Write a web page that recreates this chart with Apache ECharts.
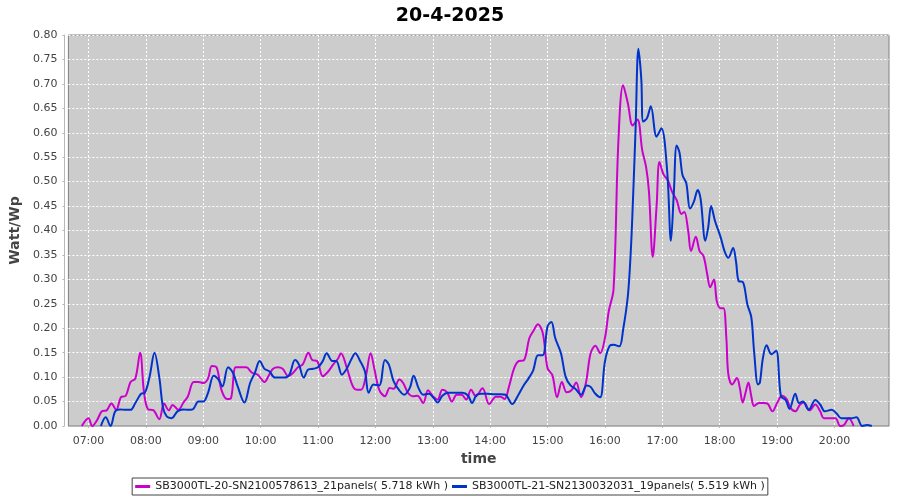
<!DOCTYPE html>
<html>
<head>
<meta charset="utf-8">
<script src="https://cdn.jsdelivr.net/npm/echarts@6/dist/echarts.min.js"></script>
<style>html,body{margin:0;padding:0;background:#fff;}#c{width:900px;height:500px;}</style>
</head>
<body>
<div id="c"></div>
<script>
const titleText = '20-4-2025';
const yName = 'Watt/Wp';
const xName = 'time';
const seriesNames = ['SB3000TL-20-SN2100578613_21panels( 5.718 kWh )', 'SB3000TL-21-SN2130032031_19panels( 5.519 kWh )'];
const hourTicks = ['07:00','08:00','09:00','10:00','11:00','12:00','13:00','14:00','15:00','16:00','17:00','18:00','19:00','20:00'];

const magentaTimes = ['06:53','07:00','07:04','07:09','07:14','07:19','07:24','07:29','07:34','07:39','07:44','07:49','07:54','07:58','08:02','08:08','08:14','08:19','08:24','08:28','08:34','08:39','08:44','08:50','08:55','09:00','09:05','09:09','09:14','09:19','09:25','09:29','09:34','09:40','09:45','09:51','09:57','10:04','10:09','10:13','10:18','10:23','10:29','10:34','10:39','10:44','10:50','10:54','10:59','11:05','11:10','11:16','11:21','11:24','11:30','11:35','11:39','11:45','11:50','11:55','11:59','12:04','12:10','12:15','12:19','12:25','12:29','12:34','12:39','12:44','12:50','12:55','13:00','13:05','13:10','13:15','13:20','13:25','13:30','13:35','13:40','13:45','13:52','13:59','14:06','14:11','14:15','14:20','14:25','14:30','14:35','14:41','14:45','14:50','14:55','15:00','15:05','15:10','15:15','15:20','15:25','15:30','15:35','15:40','15:45','15:50','15:55','16:00','16:04','16:09','16:14','16:19','16:24','16:29','16:34','16:39','16:43','16:46','16:50','16:54','16:57','17:01','17:06','17:10','17:15','17:20','17:23','17:27','17:30','17:35','17:39','17:43','17:47','17:50','17:54','17:57','18:01','18:04','18:07','18:09','18:13','18:18','18:21','18:24','18:27','18:30','18:33','18:36','18:41','18:46','18:50','18:55','19:00','19:05','19:10','19:14','19:19','19:24','19:28','19:34','19:40','19:45','19:49','19:55','20:01','20:06','20:10','20:15','20:20'];
const magentaValues = [0,0.016,0,0.012,0.030,0.032,0.046,0.033,0.059,0.062,0.090,0.097,0.150,0.070,0.035,0.032,0.014,0.046,0.032,0.043,0.033,0.047,0.061,0.090,0.090,0.088,0.097,0.123,0.120,0.074,0.055,0.057,0.120,0.120,0.120,0.109,0.105,0.090,0.105,0.117,0.120,0.117,0.102,0.109,0.120,0.126,0.150,0.135,0.133,0.102,0.110,0.126,0.138,0.149,0.120,0.088,0.075,0.074,0.102,0.149,0.116,0.074,0.061,0.078,0.076,0.095,0.088,0.068,0.061,0.062,0.047,0.073,0.061,0.054,0.074,0.069,0.050,0.064,0.064,0.054,0.074,0.061,0.077,0.045,0.060,0.060,0.055,0.083,0.118,0.133,0.134,0.180,0.194,0.208,0.190,0.118,0.104,0.059,0.090,0.069,0.073,0.089,0.059,0.087,0.149,0.164,0.149,0.180,0.235,0.280,0.580,0.697,0.660,0.615,0.627,0.564,0.530,0.480,0.346,0.450,0.540,0.516,0.502,0.480,0.462,0.434,0.438,0.400,0.358,0.387,0.358,0.348,0.310,0.284,0.300,0.255,0.241,0.241,0.178,0.106,0.085,0.098,0.078,0.048,0.068,0.089,0.061,0.041,0.047,0.047,0.046,0.030,0.047,0.062,0.055,0.037,0.030,0.044,0.048,0.032,0.044,0.030,0.016,0.016,0.016,0,0.002,0.016,0];

const blueTimes = ['07:13','07:18','07:23','07:28','07:33','07:39','07:44','07:49','07:55','07:59','08:04','08:09','08:14','08:18','08:22','08:27','08:33','08:39','08:44','08:49','08:55','09:00','09:05','09:11','09:16','09:20','09:26','09:31','09:36','09:43','09:49','09:54','09:59','10:04','10:09','10:15','10:20','10:25','10:30','10:36','10:40','10:45','10:50','10:55','11:00','11:05','11:09','11:15','11:19','11:25','11:30','11:35','11:39','11:44','11:49','11:53','11:58','12:04','12:10','12:14','12:19','12:25','12:30','12:36','12:40','12:45','12:50','12:56','13:01','13:05','13:10','13:16','13:21','13:26','13:31','13:37','13:41','13:46','13:51','13:57','14:04','14:11','14:16','14:23','14:29','14:35','14:40','14:45','14:50','14:55','15:00','15:04','15:08','15:14','15:19','15:24','15:29','15:35','15:41','15:45','15:50','15:55','16:00','16:05','16:09','16:15','16:19','16:24','16:27','16:29','16:32','16:35','16:38','16:40','16:44','16:48','16:54','16:59','17:05','17:09','17:12','17:15','17:18','17:21','17:25','17:29','17:33','17:37','17:40','17:45','17:48','17:51','17:55','18:01','18:05','18:09','18:14','18:17','18:20','18:24','18:29','18:33','18:36','18:40','18:42','18:45','18:49','18:54','18:59','19:04','19:09','19:13','19:19','19:23','19:27','19:33','19:40','19:45','19:50','19:57','20:02','20:07','20:13','20:18','20:23','20:29','20:34','20:39'];
const blueValues = [0,0.018,0,0.030,0.034,0.033,0.033,0.047,0.066,0.068,0.102,0.150,0.100,0.037,0.019,0.016,0.030,0.034,0.033,0.034,0.050,0.050,0.068,0.103,0.095,0.081,0.120,0.109,0.081,0.048,0.088,0.109,0.133,0.117,0.112,0.099,0.099,0.099,0.105,0.135,0.126,0.099,0.116,0.117,0.120,0.133,0.149,0.133,0.133,0.105,0.117,0.137,0.149,0.133,0.112,0.068,0.085,0.083,0.135,0.126,0.092,0.073,0.064,0.078,0.103,0.078,0.064,0.066,0.057,0.048,0.062,0.068,0.068,0.068,0.068,0.062,0.047,0.064,0.066,0.066,0.065,0.065,0.064,0.045,0.062,0.083,0.097,0.114,0.145,0.145,0.204,0.213,0.180,0.149,0.100,0.083,0.076,0.064,0.083,0.080,0.066,0.059,0.132,0.164,0.166,0.163,0.197,0.267,0.357,0.447,0.606,0.772,0.710,0.623,0.630,0.654,0.592,0.609,0.523,0.379,0.476,0.574,0.559,0.514,0.497,0.445,0.459,0.483,0.465,0.379,0.407,0.450,0.420,0.386,0.358,0.344,0.364,0.337,0.296,0.295,0.248,0.223,0.151,0.085,0.089,0.137,0.165,0.147,0.154,0.061,0.053,0.035,0.066,0.047,0.050,0.033,0.053,0.044,0.030,0.033,0.026,0.016,0.016,0.016,0.018,0,0.002,0];

function toMin(s){const p=s.split(':');return (+p[0])*60+(+p[1]);}
function fmt(m){const h=Math.floor(m/60),mm=m%60;return (h<10?'0':'')+h+':'+(mm<10?'0':'')+mm;}
const tickMinutes = hourTicks.map(toMin);
const FONT = 'DejaVu Sans';

const chart = echarts.init(document.getElementById('c'), null, {renderer:'canvas'});
chart.setOption({
  backgroundColor: '#ffffff',
  animation: false,
  title: {text: titleText, left: 'center', top: 2, textStyle: {fontFamily: FONT, fontSize: 19, fontWeight: 'bold', color: '#000'}},
  legend: {
    top: 478, left: 'center', itemGap: 4, itemWidth: 15, itemHeight: 3, icon: 'rect',
    padding: [3, 3], borderColor: '#444', borderWidth: 1, backgroundColor: '#fff',
    textStyle: {fontFamily: FONT, fontSize: 11, color: '#222'},
    data: seriesNames
  },
  grid: {left: 68, right: 11, top: 35, bottom: 74, show: true, backgroundColor: '#cccccc', borderColor: '#808080', borderWidth: 1},
  xAxis: {
    type: 'value', min: toMin('06:39'), max: toMin('20:57'), offset: 4,
    name: xName, nameLocation: 'middle', nameGap: 22,
    nameTextStyle: {fontFamily: FONT, fontSize: 14, fontWeight: 'bold', color: '#444'},
    axisLine: {show: true, lineStyle: {color: '#b8b8b8'}},
    axisTick: {show: true, length: 2, lineStyle: {color: '#b8b8b8'}, customValues: tickMinutes},
    axisLabel: {fontFamily: FONT, fontSize: 11, color: '#444', margin: 6, customValues: tickMinutes, formatter: v => fmt(v)},
    splitLine: {show: true, lineStyle: {color: '#ffffff', type: [2, 2], width: 1}}
  },
  yAxis: {
    type: 'value', min: 0, max: 0.8, interval: 0.05, offset: 4,
    name: yName, nameLocation: 'middle', nameGap: 37, nameRotate: 90,
    nameTextStyle: {fontFamily: FONT, fontSize: 14, fontWeight: 'bold', color: '#444'},
    axisLine: {show: true, lineStyle: {color: '#b8b8b8'}},
    axisTick: {show: true, length: 2, lineStyle: {color: '#b8b8b8'}},
    axisLabel: {fontFamily: FONT, fontSize: 11, color: '#444', margin: 7, formatter: v => v.toFixed(2)},
    splitLine: {show: true, lineStyle: {color: '#ffffff', type: [2, 2], width: 1}}
  },
  series: [
    {name: seriesNames[0], type: 'line', smooth: 0.35, showSymbol: false, color: '#cc00cc', lineStyle: {width: 2, color: '#cc00cc'},
     data: magentaTimes.map((t, i) => [toMin(t), magentaValues[i]])},
    {name: seriesNames[1], type: 'line', smooth: 0.35, showSymbol: false, color: '#0033cc', lineStyle: {width: 2, color: '#0033cc'},
     data: blueTimes.map((t, i) => [toMin(t), blueValues[i]])}
  ]
});
</script>
</body>
</html>
